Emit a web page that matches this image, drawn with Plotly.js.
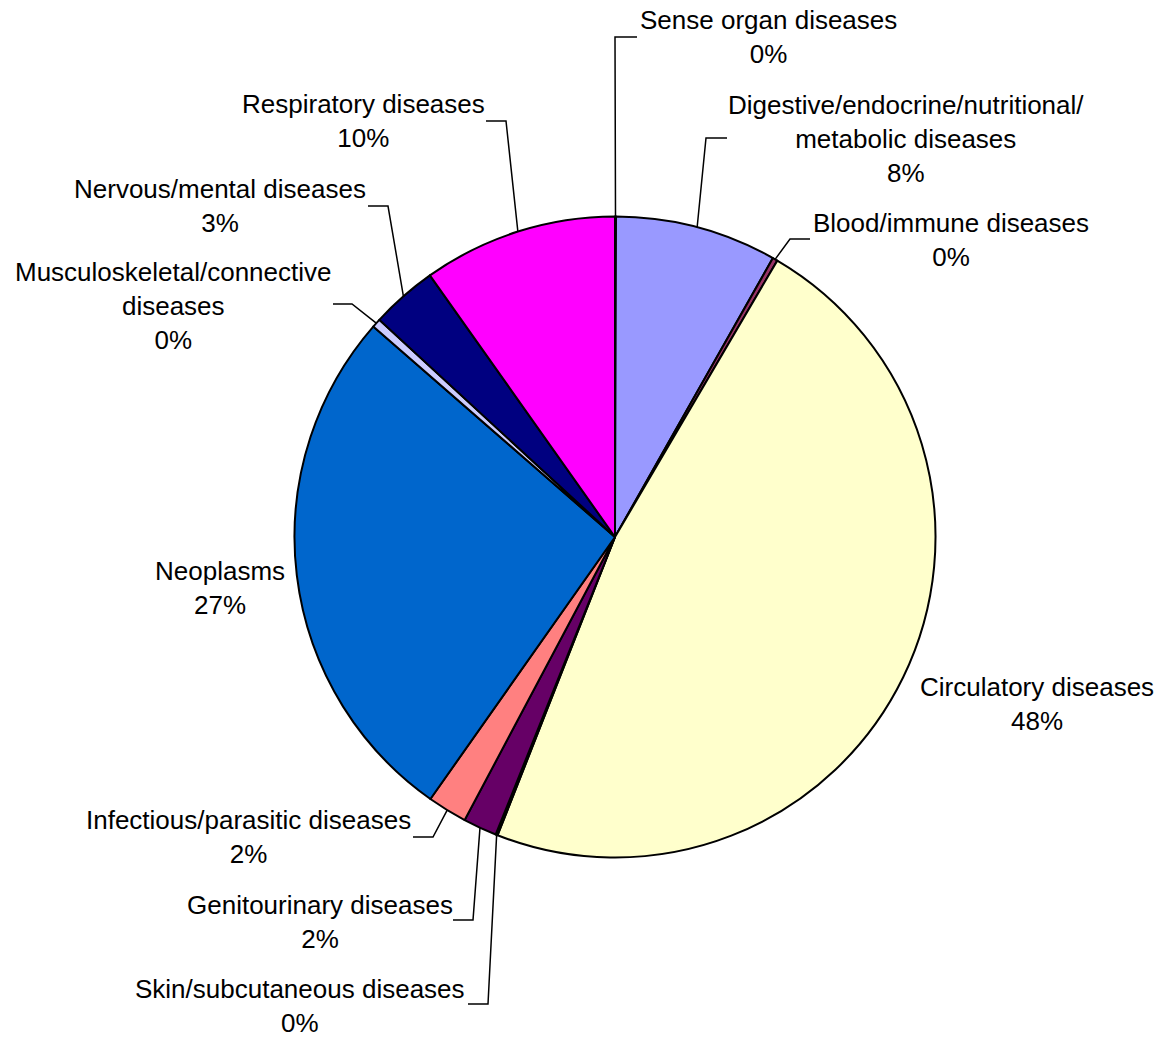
<!DOCTYPE html>
<html><head><meta charset="utf-8">
<script src="https://cdn.plot.ly/plotly-3.0.1.min.js"></script>
<style>html,body{margin:0;padding:0;background:#fff}#chart{width:1161px;height:1038px}</style>
</head><body><div id="chart"></div>
<script>
// ---- data ----
const categories = ["Sense organ diseases","Digestive/endocrine/nutritional/metabolic diseases","Blood/immune diseases","Circulatory diseases","Skin/subcutaneous diseases","Genitourinary diseases","Infectious/parasitic diseases","Neoplasms","Musculoskeletal/connective diseases","Nervous/mental diseases","Respiratory diseases"];
const values = [0.05, 8.15, 0.25, 47.52, 0.1, 1.7, 2.0, 26.63, 0.45, 3.35, 9.8];
const displayLabels = ["Sense organ diseases","Digestive/endocrine/nutritional/<br>metabolic diseases","Blood/immune diseases","Circulatory diseases","Skin/subcutaneous diseases","Genitourinary diseases","Infectious/parasitic diseases","Neoplasms","Musculoskeletal/connective<br>diseases","Nervous/mental diseases","Respiratory diseases"];
const colors = ["#CCFFFF","#9999FF","#993366","#FFFFCC","#CCFFFF","#660066","#FF8080","#0066CC","#CCCCFF","#000080","#FF00FF"];

// ---- layout (pixels) ----
const W = 1161, H = 1038, CX = 615, CY = 537, R = 320.5;
const labelPos = [[768,37],[906,139],[951,239.5],[1036.5,703.5],[300,1005.5],[320,921.5],[248.5,837],[219.5,588],[173,306],[219.5,206],[363.5,121]];
// elbow x, elbow y, end x of horizontal segment (null = no leader)
const leaderElbow = [[615,37,637],[706,138,727],[790,239,810],null,[488,1004,468],[473,920,453],[433,837,413],null,[352,304,333],[388,206,368],[506,121,486]];

const px = x => x / W, py = y => 1 - y / H;
const total = values.reduce((a,b)=>a+b,0);
let cum = 0;
const annotations = [], shapes = [];
values.forEach((v,i)=>{
  const mid = (cum + v/2) / total * 2 * Math.PI;
  cum += v;
  const pct = Math.round(v*100/total) + '%';
  annotations.push({
    x: px(labelPos[i][0]), y: py(labelPos[i][1]), xref:'paper', yref:'paper',
    xanchor:'center', yanchor:'middle', align:'center', showarrow:false,
    text: displayLabels[i] + '<br>' + pct,
    font:{family:'Liberation Sans, Arial, sans-serif', size:26, color:'#000'}
  });
  const e = leaderElbow[i];
  if (e) {
    const ex = CX + R*Math.sin(mid), ey = CY - R*Math.cos(mid);
    shapes.push({type:'path', xref:'paper', yref:'paper',
      path:`M ${px(ex)},${py(ey)} L ${px(e[0])},${py(e[1])} L ${px(e[2])},${py(e[1])}`,
      line:{color:'#000', width:1.5}});
  }
});

const trace = {
  type:'pie', labels:categories, values:values, sort:false, direction:'clockwise', rotation:0,
  marker:{colors:colors, line:{color:'#000', width:2}},
  textinfo:'none', hoverinfo:'label+percent', showlegend:false,
  domain:{x:[(CX-R)/W,(CX+R)/W], y:[1-(CY+R)/H, 1-(CY-R)/H]}
};
Plotly.newPlot('chart',[trace],{
  width:W, height:H, margin:{l:0,r:0,t:0,b:0}, paper_bgcolor:'#fff', plot_bgcolor:'#fff',
  showlegend:false, annotations:annotations, shapes:shapes
},{displayModeBar:false, staticPlot:true});
</script></body></html>
